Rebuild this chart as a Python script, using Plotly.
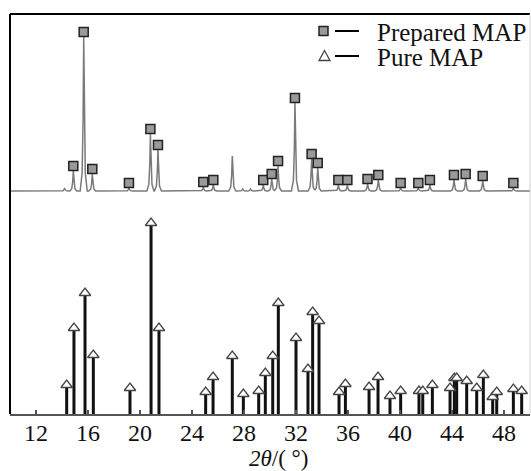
import numpy as np
import plotly.graph_objects as go

# ---- data (arbitrary intensity units) ----
# Prepared MAP: marked peaks (2theta, height above its baseline)
prep_pos = [14.87, 15.67, 16.33, 19.15, 20.80, 21.38, 24.87, 25.64, 29.48, 30.13,
            30.62, 31.92, 33.20, 33.67, 35.26, 35.95, 37.50, 38.33, 40.05, 41.41,
            42.30, 44.15, 45.05, 46.36, 48.72]
prep_int = [20, 154, 17, 3, 57, 41, 4, 6, 6, 12,
            25, 88, 32, 23, 6, 6, 7, 11, 3, 3,
            6, 11, 12, 10, 3]
# Prepared MAP: unmarked peaks / small bumps
prep_other_pos = [14.20, 27.10, 27.90, 28.50]
prep_other_int = [3, 35, 2, 2]

# Pure MAP reference stick pattern
pure_pos = [14.36, 14.92, 15.77, 16.41, 19.23, 20.85, 21.46, 25.05, 25.62, 27.10,
            27.95, 29.13, 29.64, 30.21, 30.64, 32.00, 32.92, 33.28, 33.77, 35.31,
            35.80, 37.62, 38.31, 39.23, 40.05, 41.46, 41.75, 42.49, 43.85, 44.18,
            44.36, 45.13, 45.90, 46.41, 47.13, 47.44, 48.72, 49.36]
pure_int = [29, 86, 121, 59, 26, 191, 86, 22, 37, 58,
            20, 23, 41, 58, 111, 76, 45, 102, 93, 22,
            30, 27, 37, 18, 23, 23, 23, 29, 26, 36,
            36, 33, 26, 39, 17, 22, 25, 23]

x_ticks = [12, 16, 20, 24, 28, 32, 36, 40, 44, 48]
x_min, x_max = 10, 50

# ---- styling / layout constants ----
OFFSET = 223          # vertical offset of the Prepared MAP trace
PROFILE_DX = [-0.27, -0.12, -0.05, 0.0, 0.05, 0.12, 0.27]
PROFILE_FR = [0.0, 0.12, 0.45, 1.0, 0.45, 0.12, 0.0]
MARK_GAP = 5
SERIF = "Liberation Serif, Times New Roman, serif"

# build piecewise-linear pattern from the peak list
all_pos = prep_pos + prep_other_pos
all_int = prep_int + prep_other_int
xs = {x_min, x_max}
for p in all_pos:
    for d in PROFILE_DX:
        xs.add(round(p + d, 4))
xg = np.array(sorted(xs))
yg = np.zeros_like(xg)
for p, h in zip(all_pos, all_int):
    px = [p + d for d in PROFILE_DX]
    py = [h * f for f in PROFILE_FR]
    yg += np.interp(xg, px, py, left=0, right=0)

fig = go.Figure()

fig.add_trace(go.Scatter(x=xg, y=yg + OFFSET, mode="lines",
                         line=dict(color="#7a7a7a", width=1.5),
                         showlegend=False, hoverinfo="skip"))
fig.add_trace(go.Scatter(x=prep_pos, y=[h + OFFSET + MARK_GAP for h in prep_int],
                         mode="markers",
                         marker=dict(symbol="square", size=9, color="#9a9a9a",
                                     line=dict(color="#222222", width=1.5)),
                         showlegend=False))

sx, sy = [], []
for p, h in zip(pure_pos, pure_int):
    sx += [p, p, None]
    sy += [0, h, None]
fig.add_trace(go.Scatter(x=sx, y=sy, mode="lines",
                         line=dict(color="#111111", width=3),
                         showlegend=False, hoverinfo="skip"))
fig.add_trace(go.Scatter(x=pure_pos, y=pure_int, mode="markers",
                         marker=dict(symbol="triangle-up", size=10, color="white",
                                     line=dict(color="#444444", width=1.3)),
                         showlegend=False))

W, H = 531, 471
ML, MR, MT, MB = 10, 1, 14, 57
PW, PH = W - ML - MR, H - MT - MB

def px2paper(xp, yp):
    return (xp - ML) / PW, (H - MB - yp) / PH

shapes = []
# frame
shapes.append(dict(type="line", xref="paper", yref="paper", x0=0, x1=1, y0=1, y1=1,
                   line=dict(color="black", width=2)))
shapes.append(dict(type="line", xref="paper", yref="paper", x0=0, x1=0, y0=0, y1=1,
                   line=dict(color="black", width=2)))
shapes.append(dict(type="line", xref="paper", yref="paper", x0=1, x1=1, y0=0, y1=1,
                   line=dict(color="#d0d0d0", width=1)))

# legend
sqx, sqy = px2paper(323.5, 31)
shapes.append(dict(type="rect", xref="paper", yref="paper", xsizemode="pixel",
                   ysizemode="pixel", xanchor=sqx, yanchor=sqy,
                   x0=-4.5, x1=4.5, y0=-4.5, y1=4.5,
                   fillcolor="#9a9a9a", line=dict(color="#222222", width=1.5)))
l0, ly = px2paper(335, 31)
l1, _ = px2paper(359, 31)
shapes.append(dict(type="line", xref="paper", yref="paper", x0=l0, x1=l1, y0=ly, y1=ly,
                   line=dict(color="black", width=2)))
tx, ty = px2paper(324.5, 60.5)
shapes.append(dict(type="path", xref="paper", yref="paper", xsizemode="pixel",
                   ysizemode="pixel", xanchor=tx, yanchor=ty,
                   path="M-5.5,0 L5.5,0 L0,10 Z",
                   fillcolor="white", line=dict(color="#444444", width=1.3)))
l0, ly = px2paper(335, 56)
l1, _ = px2paper(359, 56)
shapes.append(dict(type="line", xref="paper", yref="paper", x0=l0, x1=l1, y0=ly, y1=ly,
                   line=dict(color="black", width=2)))

annotations = []
ax_, ay_ = px2paper(375, 33)
annotations.append(dict(text="Prepared MAP", xref="paper", yref="paper", x=ax_, y=ay_,
                        xanchor="left", yanchor="middle", showarrow=False,
                        font=dict(family=SERIF, size=25, color="#111111")))
ax_, ay_ = px2paper(375, 57)
annotations.append(dict(text="Pure MAP", xref="paper", yref="paper", x=ax_, y=ay_,
                        xanchor="left", yanchor="middle", showarrow=False,
                        font=dict(family=SERIF, size=25, color="#111111")))
ax_, ay_ = px2paper(278, 458)
annotations.append(dict(text="<i>2θ</i>/( °)", xref="paper", yref="paper", x=ax_, y=ay_,
                        xanchor="center", yanchor="middle", showarrow=False,
                        font=dict(family=SERIF, size=23, color="#111111")))

fig.update_layout(
    width=W, height=H,
    margin=dict(l=ML, r=MR, t=MT, b=MB, pad=0, autoexpand=False),
    paper_bgcolor="white", plot_bgcolor="white",
    showlegend=False,
    shapes=shapes, annotations=annotations,
    xaxis=dict(range=[x_min, x_max], tickvals=x_ticks, ticktext=[str(t) for t in x_ticks],
               ticks="inside", ticklen=4, tickwidth=1.5, tickcolor="#555555",
               showline=True, linecolor="#555555", linewidth=2,
               showgrid=False, zeroline=False, automargin=False,
               ticklabelstandoff=-4,
               tickfont=dict(family=SERIF, size=24, color="#111111")),
    yaxis=dict(range=[0, 400], showticklabels=False, ticks="", showgrid=False,
               zeroline=False, showline=False, automargin=False),
)

fig.write_html("out.html",
               config={"displayModeBar": False},
               post_script="document.body.style.margin='0px';"
                           "document.body.style.overflow='hidden';")
